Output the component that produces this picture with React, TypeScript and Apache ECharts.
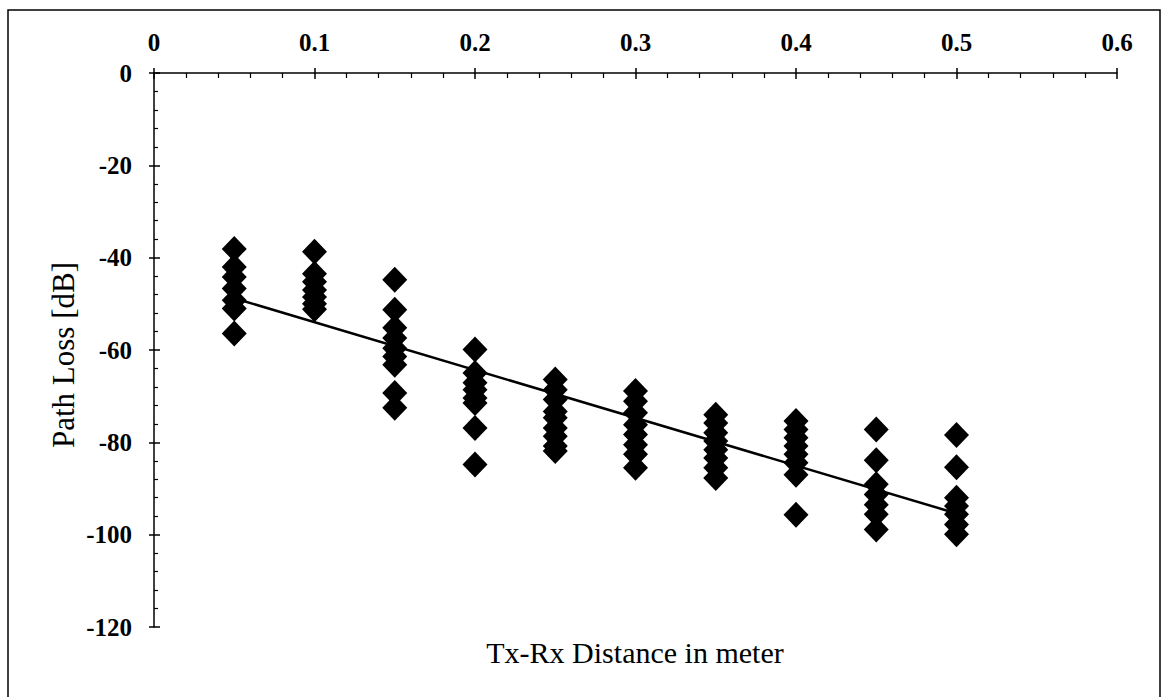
import React, { useEffect, useRef } from "react";
import * as echarts from "echarts";

const distances = [0.05, 0.1, 0.15, 0.2, 0.25, 0.3, 0.35, 0.4, 0.45, 0.5];
const pathLoss: number[][] = [
  [-38.1, -42.0, -44.2, -46.7, -49.2, -51.0, -56.4],
  [-38.7, -43.5, -45.2, -47.0, -48.5, -50.0, -51.2],
  [-44.8, -51.3, -55.2, -57.4, -59.6, -61.4, -63.2, -69.3, -72.5],
  [-59.9, -65.0, -67.1, -68.6, -70.4, -71.5, -76.9, -84.8],
  [-66.4, -68.6, -70.7, -73.3, -74.7, -76.9, -78.7, -80.8, -81.9],
  [-68.9, -71.1, -73.6, -76.2, -78.3, -80.5, -82.6, -85.5],
  [-74.0, -75.8, -77.9, -79.7, -81.6, -83.4, -85.5, -87.7],
  [-75.4, -77.2, -79.0, -80.8, -82.6, -84.4, -87.0, -95.7],
  [-77.2, -83.9, -89.1, -91.3, -93.5, -95.6, -98.9],
  [-78.4, -85.4, -92.0, -93.8, -95.6, -97.8, -99.9],
];
const trendX = [0.05, 0.5];
const trendY = [-48.8, -95.4];
const xTicks = [0, 0.1, 0.2, 0.3, 0.4, 0.5, 0.6];
const yTicks = [0, -20, -40, -60, -80, -100, -120];

const FONT = "'Liberation Serif', 'Times New Roman', serif";

export default function App() {
  const ref = useRef<HTMLDivElement>(null);
  useEffect(() => {
    if (!ref.current) return;
    const chart = echarts.init(ref.current, undefined, { renderer: "svg" });
    const scatterData: number[][] = [];
    distances.forEach((d, i) => pathLoss[i].forEach((v) => scatterData.push([d, v])));
    const trendData = trendX.map((x, i) => [x, trendY[i]]);
    const axisLine = { show: true, lineStyle: { color: "#000", width: 1.5 } };
    chart.setOption({
      animation: false,
      backgroundColor: "#fff",
      grid: { left: 154, right: 45, top: 73, bottom: 70, containLabel: false },
      xAxis: [
        {
          type: "value",
          position: "top",
          min: 0,
          max: 0.6,
          interval: 0.1,
          axisLine,
          axisTick: { show: true, inside: true, length: 6, lineStyle: { color: "#000", width: 1.5 } },
          minorTick: { show: true, splitNumber: 5, length: 5, lineStyle: { color: "#000", width: 1.2 } },
          splitLine: { show: false },
          axisLabel: {
            show: true,
            margin: 18,
            color: "#000",
            fontFamily: FONT,
            fontWeight: "bold",
            fontSize: 25,
            formatter: (v: number) => {
              const t = xTicks.find((k) => Math.abs(k - v) < 1e-9);
              return t === undefined ? "" : String(t);
            },
          },
        },
        {
          type: "value",
          position: "top",
          min: 0,
          max: 0.6,
          interval: 0.1,
          axisLine: { show: false },
          axisTick: { show: true, inside: false, length: 5, lineStyle: { color: "#000", width: 1.5 } },
          splitLine: { show: false },
          axisLabel: { show: false },
        },
      ],
      yAxis: [
        {
          type: "value",
          position: "left",
          min: -120,
          max: 0,
          interval: 20,
          axisLine,
          axisTick: { show: true, inside: true, length: 6, lineStyle: { color: "#000", width: 1.5 } },
          minorTick: { show: true, splitNumber: 5, length: 4, lineStyle: { color: "#000", width: 1.2 } },
          splitLine: { show: false },
          axisLabel: {
            show: true,
            margin: 22,
            color: "#000",
            fontFamily: FONT,
            fontWeight: "bold",
            fontSize: 25,
            formatter: (v: number) => {
              const t = yTicks.find((k) => Math.abs(k - v) < 1e-9);
              return t === undefined ? "" : String(t);
            },
          },
        },
        {
          type: "value",
          position: "left",
          min: -120,
          max: 0,
          interval: 20,
          axisLine: { show: false },
          axisTick: { show: true, inside: false, length: 5, lineStyle: { color: "#000", width: 1.5 } },
          splitLine: { show: false },
          axisLabel: { show: false },
        },
      ],
      series: [
        {
          type: "scatter",
          xAxisIndex: 0,
          yAxisIndex: 0,
          symbol: "diamond",
          symbolSize: [25, 26],
          itemStyle: { color: "#000", opacity: 1 },
          data: scatterData,
          z: 2,
        },
        {
          type: "line",
          xAxisIndex: 0,
          yAxisIndex: 0,
          showSymbol: false,
          symbol: "none",
          lineStyle: { color: "#000", width: 2.5 },
          data: trendData,
          z: 3,
        },
      ],
      graphic: [
        {
          type: "rect",
          shape: { x: 8, y: 10, width: 1152, height: 700 },
          style: { fill: "none", stroke: "#000", lineWidth: 1.5 },
          silent: true,
        },
        {
          type: "text",
          x: 635,
          y: 652,
          style: {
            text: "Tx-Rx Distance in meter",
            fontFamily: FONT,
            fontSize: 30,
            fill: "#000",
            align: "center",
            verticalAlign: "middle",
          },
        },
        {
          type: "text",
          x: 63,
          y: 355,
          rotation: Math.PI / 2,
          style: {
            text: "Path Loss [dB]",
            fontFamily: FONT,
            fontSize: 31,
            fill: "#000",
            align: "center",
            verticalAlign: "middle",
          },
        },
      ],
    });
    return () => chart.dispose();
  }, []);
  return (
    <div
      ref={ref}
      style={{ position: "absolute", left: 0, top: 0, width: 1162, height: 697 }}
    />
  );
}
